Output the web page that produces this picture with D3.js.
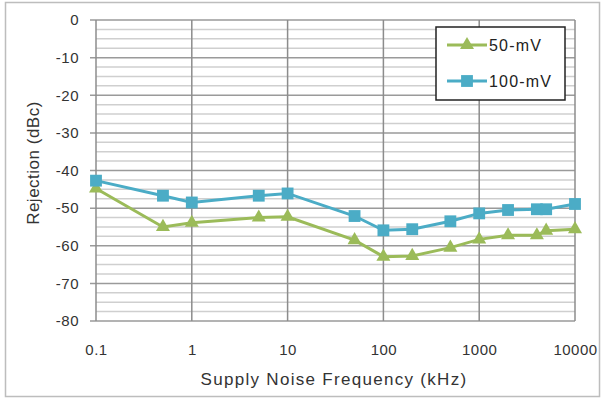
<!DOCTYPE html>
<html>
<head>
<meta charset="utf-8">
<script src="https://cdn.jsdelivr.net/npm/d3@7"></script>
<style>
  body { margin: 0; background: #fff; }
  text { font-family: "Liberation Sans", Arial, sans-serif; }
</style>
</head>
<body>
<div id="chart"></div>
<script>
// DATA
// ------------------------------------------------------------------
var freqs = [0.1, 0.5, 1, 5, 10, 50, 100, 200, 500, 1000, 2000, 4000, 5000, 10000];
var mv50  = [-44.8, -55.0, -53.9, -52.5, -52.3, -58.5, -62.9, -62.7, -60.5, -58.3, -57.2, -57.2, -56.0, -55.6];
var mv100 = [-42.7, -46.7, -48.5, -46.7, -46.1, -52.1, -55.9, -55.6, -53.5, -51.4, -50.5, -50.3, -50.3, -48.9];
var xTicks = [0.1, 1, 10, 100, 1000, 10000];
var yTicks = [0, -10, -20, -30, -40, -50, -60, -70, -80];
var seriesNames = ["50-mV", "100-mV"];

// CANVAS
// ------------------------------------------------------------------
var width = 605,
    height = 400;

var svg = d3.select("#chart")
    .append("svg")
    .attr("width", width)
    .attr("height", height);

// outer frame
svg.append("rect")
    .attr("x", 5.5).attr("y", 2.5)
    .attr("width", 594).attr("height", 394)
    .attr("fill", "none")
    .attr("stroke", "#bdbdbd")
    .attr("stroke-width", 1.5);

// AXES
// ------------------------------------------------------------------
var plotLeft = 96, plotRight = 575, plotTop = 20, plotBottom = 321;

var xScale = d3.scaleLog()
    .domain([0.1, 10000])
    .range([plotLeft, plotRight]);
var yScale = d3.scaleLinear()
    .domain([-80, 0])
    .range([plotBottom, plotTop]);

// minor horizontal grid
var minor = d3.range(-80, 0.01, 2.5).filter(function(v) { return v % 10 !== 0; });
svg.append("g").selectAll("line")
    .data(minor)
    .enter().append("line")
    .attr("x1", plotLeft).attr("x2", plotRight)
    .attr("y1", function(d) { return yScale(d); })
    .attr("y2", function(d) { return yScale(d); })
    .attr("stroke", "#cfcfcf")
    .attr("stroke-width", 1.5);

// major horizontal grid (with ticks sticking out left)
svg.append("g").selectAll("line")
    .data(yTicks)
    .enter().append("line")
    .attr("x1", plotLeft - 6).attr("x2", plotRight)
    .attr("y1", function(d) { return yScale(d); })
    .attr("y2", function(d) { return yScale(d); })
    .attr("stroke", "#9a9a9a")
    .attr("stroke-width", 1.5);

// vertical decade grid
svg.append("g").selectAll("line")
    .data(xTicks)
    .enter().append("line")
    .attr("x1", function(d) { return xScale(d); })
    .attr("x2", function(d) { return xScale(d); })
    .attr("y1", plotTop).attr("y2", plotBottom)
    .attr("stroke", "#8c8c8c")
    .attr("stroke-width", 1.5);

// tick labels (plain hyphen minus, as in the original)
var yAxis = d3.axisLeft(yScale)
    .tickValues(yTicks)
    .tickSize(0)
    .tickPadding(17)
    .tickFormat(function(d) { return String(d); });
svg.append("g")
    .attr("transform", "translate(" + plotLeft + ",0)")
    .call(yAxis)
    .call(function(g) { g.select(".domain").remove(); })
    .selectAll("text")
    .attr("font-size", 15)
    .attr("letter-spacing", 0.5)
    .attr("fill", "#333");

var xAxis = d3.axisBottom(xScale)
    .tickValues(xTicks)
    .tickSize(0)
    .tickPadding(23)
    .tickFormat(function(d) { return String(d); });
svg.append("g")
    .attr("transform", "translate(0," + plotBottom + ")")
    .call(xAxis)
    .call(function(g) { g.select(".domain").remove(); })
    .selectAll("text")
    .attr("font-size", 15)
    .attr("letter-spacing", 0.5)
    .attr("fill", "#333");

svg.append("text")
    .attr("transform", "rotate(-90)")
    .attr("x", -163)
    .attr("y", 39)
    .attr("text-anchor", "middle")
    .attr("font-size", 17)
    .attr("letter-spacing", 0.5)
    .attr("fill", "#333")
    .text("Rejection (dBc)");

svg.append("text")
    .attr("x", 334)
    .attr("y", 385)
    .attr("text-anchor", "middle")
    .attr("font-size", 17)
    .attr("letter-spacing", 1.3)
    .attr("fill", "#333")
    .text("Supply Noise Frequency (kHz)");

// PATHS
// ------------------------------------------------------------------
var colors = ["#9bbb59", "#4bacc6"];
var allSeries = [mv50, mv100];

var line = d3.line()
    .x(function(d, i) { return xScale(freqs[i]); })
    .y(function(d) { return yScale(d); });

var tri = d3.symbol().type(d3.symbolTriangle).size(85);
var sq = d3.symbol().type(d3.symbolSquare).size(140);

allSeries.forEach(function(s, k) {
  svg.append("path")
      .attr("d", line(s))
      .attr("fill", "none")
      .attr("stroke", colors[k])
      .attr("stroke-width", 3);
  svg.append("g").selectAll("path")
      .data(s)
      .enter().append("path")
      .attr("transform", function(d, i) {
        return "translate(" + xScale(freqs[i]) + "," + yScale(d) + ")";
      })
      .attr("d", k === 0 ? tri : sq)
      .attr("fill", colors[k]);
});

// LEGEND
// ------------------------------------------------------------------
var legend = svg.append("g");
legend.append("rect")
    .attr("x", 436).attr("y", 27)
    .attr("width", 129).attr("height", 73)
    .attr("fill", "#fff")
    .attr("stroke", "#222")
    .attr("stroke-width", 1.5);

seriesNames.forEach(function(name, k) {
  var yy = 45 + k * 36;
  legend.append("line")
      .attr("x1", 447).attr("x2", 487)
      .attr("y1", yy).attr("y2", yy)
      .attr("stroke", colors[k])
      .attr("stroke-width", 3);
  legend.append("path")
      .attr("transform", "translate(467," + yy + ")")
      .attr("d", k === 0 ? tri : sq)
      .attr("fill", colors[k]);
  legend.append("text")
      .attr("x", 489).attr("y", yy + 6)
      .attr("font-size", 16)
      .attr("letter-spacing", 1.2)
      .attr("fill", "#222")
      .text(name);
});
</script>
</body>
</html>
